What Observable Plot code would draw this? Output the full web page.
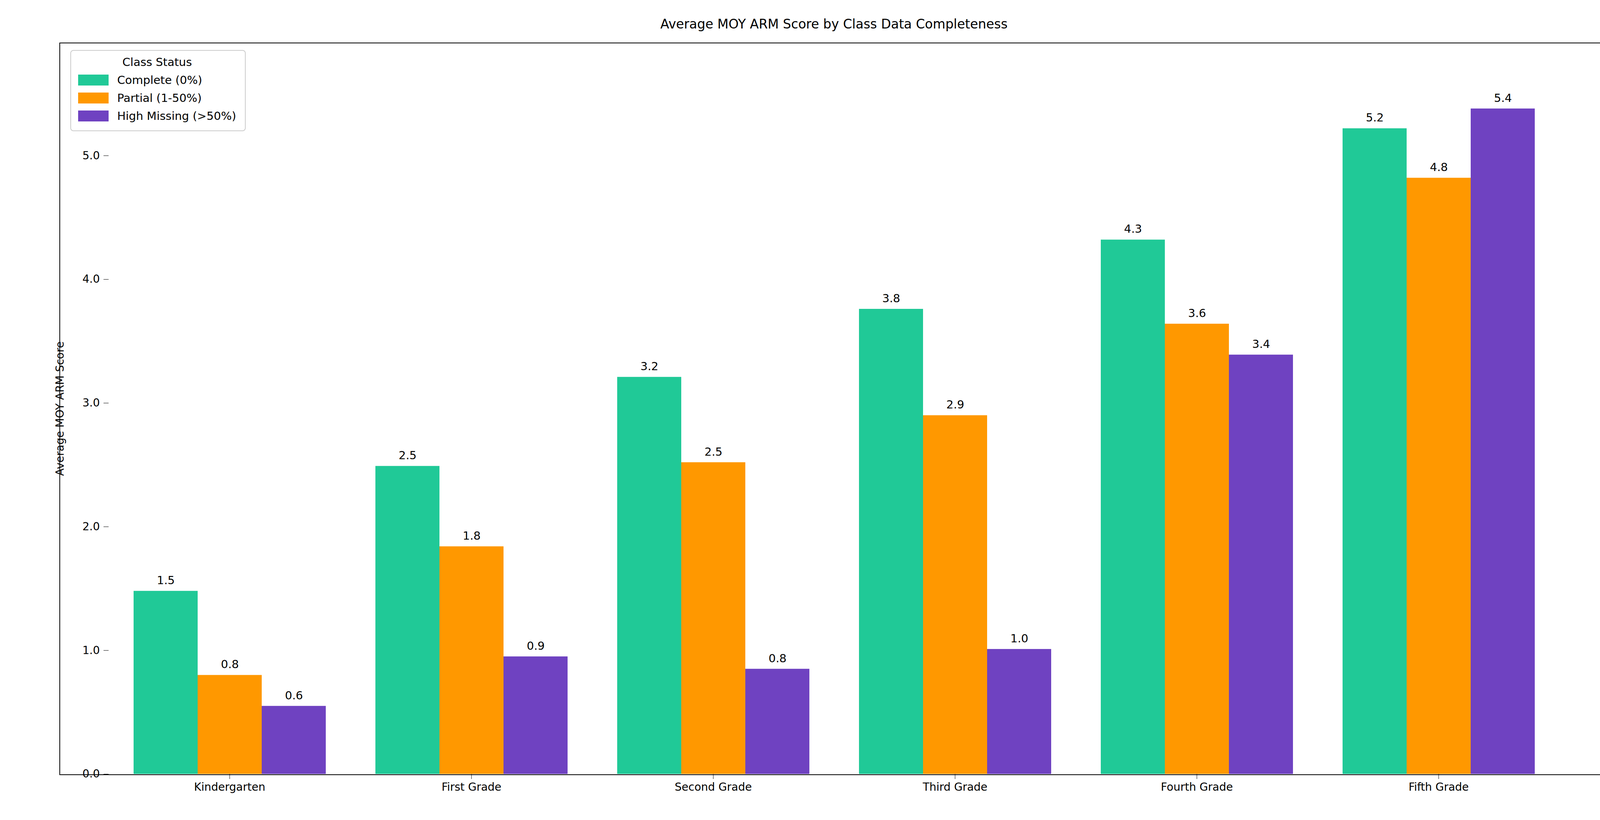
<!DOCTYPE html>
<html><head><meta charset="utf-8">
<script src="https://cdn.jsdelivr.net/npm/d3@7"></script>
<script src="https://cdn.jsdelivr.net/npm/@observablehq/plot@0.6"></script>
<style>
body{margin:0;background:#fff;font-family:"DejaVu Sans",sans-serif;}
#wrap{position:relative;width:4200px;height:2100px;}
#title{position:absolute;top:42px;left:153px;width:3964px;text-align:center;font-size:33px;}
#frame{position:absolute;left:152px;top:109px;width:3964px;height:1872px;border:2.5px solid #000;pointer-events:none;}
#legend{position:absolute;left:180px;top:128px;border:2px solid #ccc;border-radius:8px;padding:12px 22px 14px 18px;font-size:29px;background:#fff;}
#legend .h{text-align:center;margin-bottom:6px}
#legend .r{display:flex;align-items:center;height:46px}
#legend .s{width:78px;height:28px;margin-right:22px}
</style></head><body>
<div id="wrap"><div id="title">Average MOY ARM Score by Class Data Completeness</div><div id="chart"></div><div id="frame"></div><div id="legend"></div></div>
<script>
const grades=["Kindergarten","First Grade","Second Grade","Third Grade","Fourth Grade","Fifth Grade"];
const statuses=["Complete (0%)","Partial (1-50%)","High Missing (>50%)"];
const complete=[1.48,2.49,3.21,3.76,4.32,5.22];
const partial=[0.80,1.84,2.52,2.90,3.64,4.82];
const high=[0.55,0.95,0.85,1.01,3.39,5.38];
const colors=["#20c997","#ff9800","#6f42c1"];
const yTicks=[0,1,2,3,4,5];
const series=[complete,partial,high];
const data=[];
grades.forEach((g,i)=>statuses.forEach((s,j)=>data.push({grade:g,status:s,value:series[j][i]})));
const chart=Plot.plot({
  width:4200,height:2100,marginLeft:153,marginRight:83,marginTop:110,marginBottom:118,
  style:{fontSize:"28px",fontFamily:"DejaVu Sans"},
  fx:{domain:grades,paddingInner:0,paddingOuter:0.2,label:null,tickSize:13,tickPadding:10},
  x:{domain:statuses,paddingInner:0,paddingOuter:0.376,axis:null},
  y:{domain:[0,5.91],ticks:yTicks,tickSize:13,tickPadding:10,label:"Average MOY ARM Score",labelAnchor:"center",labelArrow:"none",labelOffset:135},
  color:{domain:statuses,range:colors},
  marks:[
    Plot.barY(data,{fx:"grade",x:"status",y:"value",fill:"status"}),
    Plot.text(data,{fx:"grade",x:"status",y:"value",text:d=>d.value.toFixed(1),dy:-27,fontSize:29,fill:"#000"})
  ]
});
chart.style.position="absolute";chart.style.left="0";chart.style.top="0";
document.getElementById("chart").appendChild(chart);
const lg=document.getElementById("legend");
lg.innerHTML='<div class="h">Class Status</div>'+statuses.map((s,i)=>`<div class="r"><div class="s" style="background:${colors[i]}"></div>${s}</div>`).join("");
</script></body></html>
